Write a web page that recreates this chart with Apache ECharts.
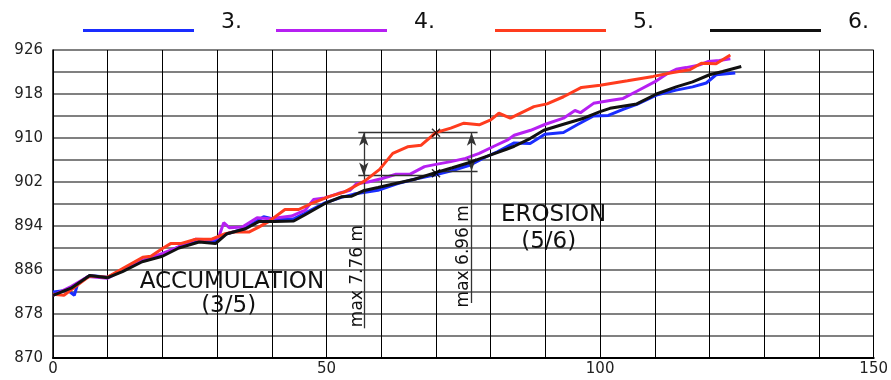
<!DOCTYPE html>
<html>
<head>
<meta charset="utf-8">
<script src="https://cdn.jsdelivr.net/npm/echarts@6/dist/echarts.min.js"></script>
<style>
  html, body { margin: 0; padding: 0; background: #fff; }
  #chart { width: 891px; height: 380px; }
</style>
</head>
<body>
<div id="chart"></div>
<script>
// profile 3.
const s3X = [0, 2.7, 3.9, 4.5, 6.7, 10, 12.7, 16.3, 20, 23, 26.7, 29.7, 31.5, 35, 38.5, 40.6, 44, 46, 49.7, 52.7, 55, 59.4, 63, 66, 69.9, 73, 76.3, 79, 81.2, 84.3, 87.2, 89.9, 93.3, 95.8, 98.8, 101.5, 104.2, 106.7, 110.3, 113.9, 116.9, 119.4, 121.2, 124.7];
const s3Y = [882, 882.3, 881.4, 883.5, 885, 884.7, 885.9, 887.7, 888.8, 890.2, 891.4, 891.3, 892.5, 893.5, 895.7, 895.2, 895.3, 896.3, 898.2, 899.2, 899.8, 900.5, 901.7, 902.5, 903.3, 904.1, 905.1, 906.5, 907.5, 909.1, 909, 910.7, 911, 912.4, 914, 914.1, 915.2, 916.1, 917.8, 918.7, 919.3, 920, 921.5, 921.8];
// profile 4.
const s4X = [0, 3.3, 6.4, 10, 12.8, 16.3, 20, 23, 26.1, 29, 30.3, 31.2, 32.2, 34.6, 37.3, 39.6, 43.6, 46.1, 47.6, 49.7, 52.1, 54.3, 55.5, 57.6, 60, 62.7, 65.2, 67.9, 70, 72.7, 75.4, 77.9, 80.6, 83, 84.3, 87.3, 90, 93.3, 95.4, 96.4, 98.8, 101.8, 104.2, 106.7, 110.3, 112.1, 113.9, 115.7, 118.2, 119.7, 121.8, 123.8];
const s4Y = [881.4, 883, 884.8, 884.5, 886, 887.7, 889, 890.2, 891.6, 891.5, 892, 894.6, 893.7, 893.8, 895.5, 895.3, 895.8, 896.9, 898.8, 899.1, 899.9, 900.5, 901.7, 902, 902.6, 903.4, 903.4, 904.8, 905.2, 905.7, 906.3, 907.2, 908.5, 909.6, 910.5, 911.4, 912.5, 913.6, 915, 914.6, 916.3, 916.8, 917.2, 918.5, 920.4, 921.6, 922.5, 922.8, 923.3, 923.9, 924.1, 924.4];
// profile 5.
const s5X = [0, 2, 5.2, 6.7, 10, 13.3, 16.4, 17.9, 20, 21.5, 23.3, 26.1, 29, 31.5, 33, 35.8, 37.6, 39.4, 42.4, 44.9, 47.3, 50.3, 53.3, 55.5, 57, 59.7, 62.1, 64.8, 67.3, 70, 72.7, 75.1, 77.9, 80, 81.5, 83.6, 87.9, 90.3, 93.3, 96.6, 100, 105, 109.7, 113.3, 116.4, 118.5, 121.2, 123.8];
const s5Y = [881.6, 881.4, 883.8, 884.9, 884.7, 886.6, 888.3, 888.5, 889.9, 890.8, 890.8, 891.6, 891.6, 892.6, 892.9, 892.9, 893.8, 894.8, 897, 897, 898.1, 899.3, 900.2, 901.4, 902.2, 904.3, 907.2, 908.4, 908.7, 911, 911.8, 912.7, 912.4, 913.3, 914.5, 913.6, 915.7, 916.2, 917.5, 919.2, 919.6, 920.4, 921.2, 921.9, 922.4, 923.6, 923.5, 925.1];
// profile 6.
const s6X = [0, 3.3, 6.7, 10, 12.7, 16.3, 20, 23, 26.7, 29.7, 31.8, 35.2, 37.6, 40.6, 44, 46, 49.7, 52.7, 54.5, 56.7, 59.4, 62, 66.1, 69.9, 73, 76.3, 79.9, 83, 84.3, 87.2, 89.7, 93.3, 97, 100, 101.8, 106.7, 110.3, 113.9, 116.9, 120, 122.4, 125.8];
const s6Y = [881.4, 882.7, 885, 884.6, 885.7, 887.5, 888.5, 890, 891.1, 890.8, 892.6, 893.5, 894.8, 894.8, 894.9, 896, 898.1, 899.3, 899.4, 900.4, 901, 901.6, 902.5, 903.7, 904.6, 905.6, 906.9, 908, 908.5, 909.9, 911.4, 912.5, 913.6, 914.8, 915.4, 916.2, 918, 919.3, 920.2, 921.5, 922.1, 923];

const names = ['3.', '4.', '5.', '6.'];
const colors = ['#1a2dff', '#b620f2', '#ff3c1e', '#111111'];
const legendLeft = [78, 271, 490, 705];

// measured differences
const topLevel = 910.96;
const low5 = 903.2;
const low6 = 904.0;
const crossX = [70, 70];
const crossY = [910.96, 903.6];

const font = 'DejaVu Sans, Verdana, sans-serif';

const zip = (xs, ys) => xs.map((x, i) => [x, ys[i]]);
const seriesData = [zip(s3X, s3Y), zip(s4X, s4Y), zip(s5X, s5Y), zip(s6X, s6Y)];

const chart = echarts.init(document.getElementById('chart'));

const lineSeries = names.map((n, i) => ({
  name: n,
  type: 'line',
  data: seriesData[i],
  showSymbol: false,
  symbol: 'none',
  lineStyle: { width: 3, color: colors[i] },
  itemStyle: { color: colors[i] },
  z: 3 + i
}));

// legend swatch: a 3px bar sitting at the bottom of a 20px box
const legends = names.map((n, i) => ({
  data: [n],
  left: legendLeft[i],
  top: 6,
  icon: 'path://M0,0M0,17L111,17L111,20L0,20Z',
  itemWidth: 111,
  itemHeight: 20,
  textStyle: {
    fontFamily: font,
    fontSize: 22,
    color: '#111',
    padding: [0, 0, 0, 22]
  }
}));

const option = {
  animation: false,
  backgroundColor: '#fff',
  legend: legends,
  grid: { left: 53, right: 13, top: 50, bottom: 22 },
  xAxis: {
    type: 'value',
    min: 0,
    max: 150,
    interval: 10,
    axisLine: { show: true, lineStyle: { color: '#000', width: 2 } },
    axisTick: { show: false },
    splitLine: { show: true, lineStyle: { color: '#000', width: 1 } },
    axisLabel: {
      fontFamily: font,
      fontSize: 15,
      color: '#222',
      margin: 4,
      formatter: v => (v % 50 === 0 ? String(v) : '')
    }
  },
  yAxis: {
    type: 'value',
    min: 870,
    max: 926,
    interval: 4,
    axisLine: { show: true, lineStyle: { color: '#000', width: 1.5 } },
    axisTick: { show: false },
    splitLine: { show: true, lineStyle: { color: '#808080', width: 2 } },
    axisLabel: {
      fontFamily: font,
      fontSize: 15,
      color: '#222',
      margin: 10,
      formatter: v => ((v - 870) % 8 === 0 ? String(v) : '')
    }
  },
  series: [
    ...lineSeries,
    {
      name: 'marks',
      type: 'scatter',
      data: zip(crossX, crossY),
      symbol: 'path://M0,0L10,10M10,0L0,10',
      symbolSize: 8,
      itemStyle: { color: 'none', borderColor: '#000', borderWidth: 1.5 },
      z: 10,
      markLine: {
        silent: true,
        symbol: 'none',
        symbolSize: [7, 13],
        label: { show: false },
        lineStyle: { color: '#333', width: 1.3, type: 'solid' },
        data: [
          [{ coord: [55.8, topLevel] }, { coord: [77.6, topLevel] }],
          [{ coord: [55.8, low5] }, { coord: [70, low5] }],
          [{ coord: [70, low6] }, { coord: [77.6, low6] }],
          [{ coord: [56.8, low5], symbol: 'arrow' }, { coord: [56.8, topLevel], symbol: 'arrow' }],
          [{ coord: [56.8, 875.4] }, { coord: [56.8, low5] }],
          [{ coord: [76.5, low6], symbol: 'arrow' }, { coord: [76.5, topLevel], symbol: 'arrow' }],
          [{ coord: [76.5, 880] }, { coord: [76.5, low6] }]
        ]
      }
    }
  ]
};

chart.setOption(option);

// text notes placed in data coordinates
const notes = [
  { text: 'ACCUMULATION', at: [32.7, 883.8], size: 23, rot: 0 },
  { text: '(3/5)', at: [32.1, 879.4], size: 23, rot: 0 },
  { text: 'EROSION', at: [91.5, 896.0], size: 23, rot: 0 },
  { text: '(5/6)', at: [90.6, 891.1], size: 23, rot: 0 },
  { text: 'max 7.76 m', at: [55.6, 884.9], size: 17, rot: Math.PI / 2 },
  { text: 'max 6.96 m', at: [75.1, 888.5], size: 17, rot: Math.PI / 2 }
];

chart.setOption({
  graphic: notes.map(n => {
    const p = chart.convertToPixel({ gridIndex: 0 }, n.at);
    return {
      type: 'text',
      x: p[0],
      y: p[1],
      rotation: n.rot,
      z: 20,
      style: {
        text: n.text,
        fontFamily: font,
        fontSize: n.size,
        fill: '#111',
        align: 'center',
        verticalAlign: 'middle'
      }
    };
  })
});

window.addEventListener('resize', () => chart.resize());
</script>
</body>
</html>
